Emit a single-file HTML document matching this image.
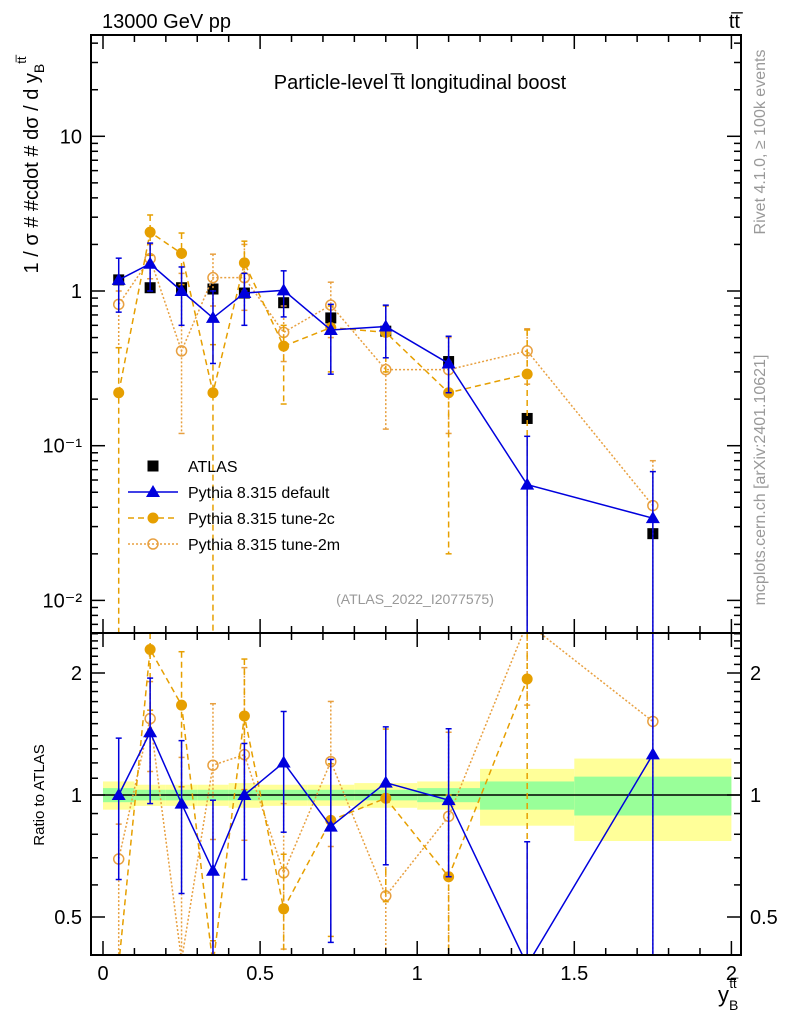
<!DOCTYPE html>
<html><head><meta charset="utf-8"><style>
html,body{margin:0;background:#fff;overflow:hidden;width:786px;height:1024px}
svg{display:block;font-family:"Liberation Sans",sans-serif;max-height:1024px}
</style></head><body>
<svg id="c" width="786" height="1024" viewBox="0 0 786 1024" xmlns="http://www.w3.org/2000/svg">
<defs>
<clipPath id="cm"><rect x="91" y="35" width="650" height="598"/></clipPath>
<clipPath id="cr"><rect x="91" y="633" width="650" height="322"/></clipPath>
</defs>
<g id="bands" clip-path="url(#cr)"></g>
<g id="gm"></g>
<g id="gr"></g>
<rect x="91" y="35" width="650" height="598" fill="none" stroke="#000" stroke-width="2"/>
<rect x="91" y="633" width="650" height="322" fill="none" stroke="#000" stroke-width="2"/>
<text x="102" y="28" font-size="20">13000 GeV pp</text>
<text x="740" y="28" font-size="20" text-anchor="end">tt̅</text>
<text x="420" y="89" font-size="20" text-anchor="middle">Particle-level t̅t longitudinal boost</text>
<text x="415" y="604" font-size="14" fill="#999" text-anchor="middle">(ATLAS_2022_I2077575)</text>
<text transform="translate(38,165) rotate(-90)" font-size="20" text-anchor="middle">1 / σ # #cdot # dσ / d y<tspan font-size="14" dy="6">B</tspan><tspan font-size="13" dy="-18">tt̅</tspan></text>
<text transform="translate(44,795) rotate(-90)" font-size="15" text-anchor="middle">Ratio to ATLAS</text>
<text x="718" y="1002" font-size="22">y<tspan font-size="14" dy="8">B</tspan><tspan font-size="13" dx="-9" dy="-22">tt̅</tspan></text>
<text transform="translate(765,142) rotate(-90)" font-size="16" fill="#999" text-anchor="middle">Rivet 4.1.0, ≥ 100k events</text>
<text transform="translate(765,480) rotate(-90)" font-size="16" fill="#999" text-anchor="middle">mcplots.cern.ch [arXiv:2401.10621]</text>
<g id="legend"></g>
</svg>
<script>
const edges=[0,0.1,0.2,0.3,0.4,0.5,0.65,0.8,1.0,1.2,1.5,2.0];
const centers=[0.05,0.15,0.25,0.35,0.45,0.575,0.725,0.9,1.1,1.35,1.75];
const atlas=[1.18,1.05,1.05,1.03,0.97,0.84,0.67,0.55,0.35,0.15,0.027];
const greenRel=[0.04,0.03,0.03,0.03,0.03,0.03,0.03,0.03,0.04,0.08,0.11];
const yellowRel=[0.08,0.06,0.06,0.06,0.07,0.06,0.06,0.07,0.08,0.16,0.23];
const defVal=[1.18,1.5,1.0,0.67,0.97,1.01,0.56,0.59,0.34,0.056,0.034];
const defHi=[1.63,2.04,1.43,1.0,1.3,1.35,0.82,0.81,0.51,0.115,0.068];
const defLo=[0.73,1.0,0.6,0.34,0.6,0.68,0.29,0.37,0.22,0.001,0.001];
const c2Val=[0.22,2.4,1.75,0.22,1.52,0.44,0.58,0.54,0.22,0.29,null];
const c2Hi=[0.43,3.1,2.37,0.45,2.1,0.6,0.8,0.8,0.35,0.56,null];
const c2Lo=[0.001,1.7,1.1,0.001,1.0,0.186,0.3,0.3,0.02,0.001,null];
const m2Val=[0.82,1.62,0.41,1.22,1.22,0.54,0.81,0.31,0.31,0.41,0.041];
const m2Hi=[1.0,2.0,1.3,1.73,2.0,0.8,1.14,0.55,0.5,0.57,0.08];
const m2Lo=[0.43,1.2,0.12,0.8,0.75,0.35,0.5,0.128,0.12,0.25,0.001];
const xTicks=[0,0.5,1,1.5,2];
const xTickLabels=["0","0.5","1","1.5","2"];
const yMainTicks=[0.01,0.1,1,10];
const yMainLabels=["10⁻²","10⁻¹","1","10"];
const yRatioTicks=[0.5,1,2];
const yRatioLabels=["0.5","1","2"];

const NS="http://www.w3.org/2000/svg";
const X=v=>103+(v)*314.2;
const clampM=y=>Math.max(25,Math.min(643,y));
const clampR=y=>Math.max(623,Math.min(965,y));
const YM=v=>clampM(291-Math.log10(v)*154.7);
const YR=v=>clampR(795-Math.log2(v)*122);
function mk(p,t,a){const e=document.createElementNS(NS,t);for(const k in a)e.setAttribute(k,a[k]);p.appendChild(e);return e;}
const svg=document.getElementById('c');
const gm=document.getElementById('gm'),gr=document.getElementById('gr'),gb=document.getElementById('bands');

for(let i=0;i<centers.length;i++){
  const x0=X(edges[i]),x1=X(edges[i+1]);
  const y=mk(gb,'rect',{x:x0,y:YR(1+yellowRel[i]),width:x1-x0,height:YR(1-yellowRel[i])-YR(1+yellowRel[i]),fill:'#ffff99'});
  
  
  const g=mk(gb,'rect',{x:x0,y:YR(1+greenRel[i]),width:x1-x0,height:YR(1-greenRel[i])-YR(1+greenRel[i]),fill:'#99ff99'});
  
  
}
const one=mk(gr,'line',{x1:91,x2:741,y1:YR(1),y2:YR(1),stroke:'#000','stroke-width':1.5});



const ax=mk(svg,'g',{stroke:'#000','stroke-width':1.5});


for(let v=0;v<=2.001;v+=0.1){
  const maj=Math.abs(v*2-Math.round(v*2))<1e-6;const L=maj?14:7;const x=X(v);
  [[633,-1],[35,1],[955,-1],[633,1]].forEach(([y,d])=>mk(ax,'line',{x1:x,x2:x,y1:y,y2:y+d*L}));
}
xTicks.forEach((v,i)=>{const t=mk(svg,'text',{x:X(v),y:980,'font-size':20,'text-anchor':'middle'});t.textContent=xTickLabels[i];

});
for(let d=-3;d<=1;d++)for(let m=1;m<10;m++){const v=m*Math.pow(10,d);const y=291-Math.log10(v)*154.7;if(y<35||y>633)continue;const L=m==1?14:7;
  mk(ax,'line',{x1:91,x2:91+L,y1:y,y2:y});mk(ax,'line',{x1:741,x2:741-L,y1:y,y2:y});}
yMainTicks.forEach((v,i)=>{const t=mk(svg,'text',{x:82,y:YM(v)+7,'font-size':20,'text-anchor':'end'});t.textContent=yMainLabels[i];

});
[0.4,0.5,0.6,0.7,0.8,0.9,1,1.1,1.2,1.3,1.4,1.5,1.6,1.7,1.8,1.9,2,2.1,2.2,2.3,2.4,2.5].forEach(v=>{const y=795-Math.log2(v)*122;if(y<633||y>955)return;const maj=yRatioTicks.includes(v);const L=maj?14:7;
  mk(ax,'line',{x1:91,x2:91+L,y1:y,y2:y});mk(ax,'line',{x1:741,x2:741-L,y1:y,y2:y});});
yRatioTicks.forEach((v,i)=>{[[82,'end'],[750,'start']].forEach(([x,a])=>{const t=mk(svg,'text',{x:x,y:YR(v)+7,'font-size':20,'text-anchor':a});t.textContent=yRatioLabels[i];

});});

function marker(g,type,x,y,col){
  if(type=='sq')return mk(g,'rect',{x:x-5.5,y:y-5.5,width:11,height:11,fill:'#000'});
  if(type=='tri')return mk(g,'polygon',{points:`${x},${y-7} ${x-7},${y+5} ${x+7},${y+5}`,fill:col});
  if(type=='dot')return mk(g,'circle',{cx:x,cy:y,r:5.5,fill:col});
  return mk(g,'circle',{cx:x,cy:y,r:5,fill:'none',stroke:col,'stroke-width':1.5});
}
function series(panel,clip,Y,vals,hi,lo,col,dash,type,name,norm){
  const g=mk(panel,'g',{'clip-path':`url(#${clip})`});
  
  
  const f=i=>norm?atlas[i]:1;
  const lim=norm?[633,955]:[35,633];
  let pts=[];
  vals.forEach((v,i)=>{if(v==null)return;pts.push(X(centers[i])+','+Y(v/f(i)));});
  if(type!='sq')mk(g,'polyline',{points:pts.join(' '),fill:'none',stroke:col,'stroke-width':1.5,'stroke-dasharray':dash});
  vals.forEach((v,i)=>{if(v==null)return;const x=X(centers[i]);
    if(hi){const y1=Y(hi[i]/f(i)),y2=Y(lo[i]/f(i));
      mk(g,'line',{x1:x,x2:x,y1:y1,y2:y2,stroke:col,'stroke-width':1.5,'stroke-dasharray':dash});
      mk(g,'line',{x1:x-3,x2:x+3,y1:y1,y2:y1,stroke:col,'stroke-width':1.5});
      mk(g,'line',{x1:x-3,x2:x+3,y1:y2,y2:y2,stroke:col,'stroke-width':1.5});}
    const ym=Y(v/f(i));
    if(ym<=lim[0]||ym>=lim[1])return;
    const m=marker(g,type,x,ym,col);
    
    
  });
}
const OR='#e69f00',OR2='#e8a040',BL='#0000dd';
series(gm,'cm',YM,atlas,null,null,'#000','','sq','atlas-data',false);
series(gm,'cm',YM,m2Val,m2Hi,m2Lo,OR2,'2,2','ring','tune-2m',false);
series(gm,'cm',YM,c2Val,c2Hi,c2Lo,OR,'6,4','dot','tune-2c',false);
series(gm,'cm',YM,defVal,defHi,defLo,BL,'','tri','pythia-default',false);
series(gr,'cr',YR,m2Val,m2Hi,m2Lo,OR2,'2,2','ring','ratio-tune-2m',true);
series(gr,'cr',YR,c2Val,c2Hi,c2Lo,OR,'6,4','dot','ratio-tune-2c',true);
series(gr,'cr',YR,defVal,defHi,defLo,BL,'','tri','ratio-pythia-default',true);

const lg=document.getElementById('legend');
const items=[['ATLAS','#000','','sq'],['Pythia 8.315 default',BL,'','tri'],['Pythia 8.315 tune-2c',OR,'6,4','dot'],['Pythia 8.315 tune-2m',OR2,'2,2','ring']];
items.forEach((it,i)=>{const y=466+i*26;const g=mk(lg,'g',{});
  
  
  if(it[3]!='sq')mk(g,'line',{x1:128,x2:178,y1:y,y2:y,stroke:it[1],'stroke-width':1.5,'stroke-dasharray':it[2]});
  marker(g,it[3],153,y,it[1]);
  const t=mk(g,'text',{x:188,y:y+6,'font-size':16});t.textContent=it[0];});
</script>
</body></html>
